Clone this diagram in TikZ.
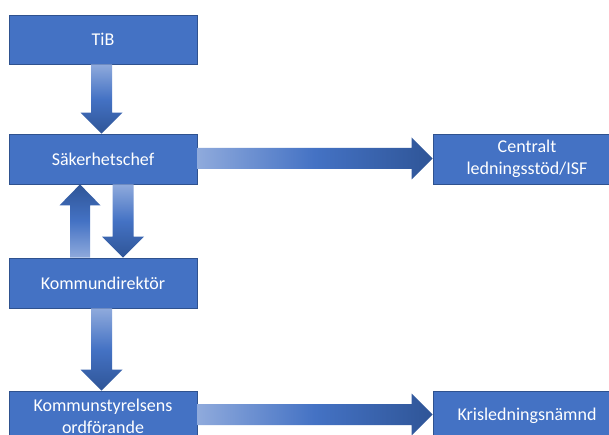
\documentclass[tikz,border=0pt]{standalone}
\usepackage{fontspec}
\setmainfont{Carlito}
\usetikzlibrary{calc}
\definecolor{boxblue}{HTML}{4472C4}
\definecolor{boxline}{HTML}{2F528F}
\definecolor{arrlight}{HTML}{8FAADC}
\definecolor{arrdark}{HTML}{2F5597}
\newcommand\arrdown[2]{%
 \shade[top color=arrlight, bottom color=arrdark, middle color=boxblue]
 let \p1=#1, \p2=#2 in
 (\x1-10.5pt,\y1) -- (\x1+10.5pt,\y1) -- (\x1+10.5pt,\y2+21pt) -- (\x1+21pt,\y2+21pt)
 -- (\x1,\y2) -- (\x1-21pt,\y2+21pt) -- (\x1-10.5pt,\y2+21pt) -- cycle;}
\newcommand\arrup[2]{%
 \shade[top color=arrdark, bottom color=arrlight, middle color=boxblue]
 let \p1=#1, \p2=#2 in
 (\x1-10pt,\y1) -- (\x1+10pt,\y1) -- (\x1+10pt,\y2-21pt) -- (\x1+20.5pt,\y2-21pt)
 -- (\x1,\y2) -- (\x1-20.5pt,\y2-21pt) -- (\x1-10pt,\y2-21pt) -- cycle;}
\newcommand\arrright[2]{%
 \shade[left color=arrlight, right color=arrdark, middle color=boxblue]
 let \p1=#1, \p2=#2 in
 (\x1,\y1+10.5pt) -- (\x1,\y1-10.5pt) -- (\x2-21pt,\y1-10.5pt) -- (\x2-21pt,\y1-21pt)
 -- (\x2,\y1) -- (\x2-21pt,\y1+21pt) -- (\x2-21pt,\y1+10.5pt) -- cycle;}
\begin{document}
\begin{tikzpicture}[x=1pt,y=-1pt,
 box/.style={draw=boxline, line width=0.75pt, fill=boxblue, text=white,
   minimum width=188pt, minimum height=50pt, inner sep=0pt, align=center,
   font=\fontsize{18}{22}\selectfont}]
\useasboundingbox[fill=white] (0,0) rectangle (609,435);
\node[box, minimum height=49pt] (tib) at (103,39.5) {TiB};
\node[box] (sak) at (103,159) {Säkerhetschef};
\node[box] (kd) at (103,283) {Kommundirektör};
\node[box] (ks) at (103,416) {Kommunstyrelsens\\ordförande};
\node[box] (cl) at (527,159) {Centralt\\ledningsstöd/ISF};
\node[box] (kn) at (527,416) {Krisledningsnämnd};
\arrdown{($(tib.south)+(-1.5,0)$)}{($(sak.north)+(-1.5,0)$)}
\arrup{($(kd.north)+(-23,0)$)}{($(sak.south)+(-23,0)$)}
\arrdown{($(sak.south)+(20,0)$)}{($(kd.north)+(20,0)$)}
\arrdown{($(kd.south)+(-1.5,0)$)}{($(ks.north)+(-1.5,0)$)}
\arrright{($(sak.east)+(0,-0.5)$)}{(cl.west)}
\arrright{($(ks.east)+(0,-1.5)$)}{(kn.west)}
\end{tikzpicture}
\end{document}
